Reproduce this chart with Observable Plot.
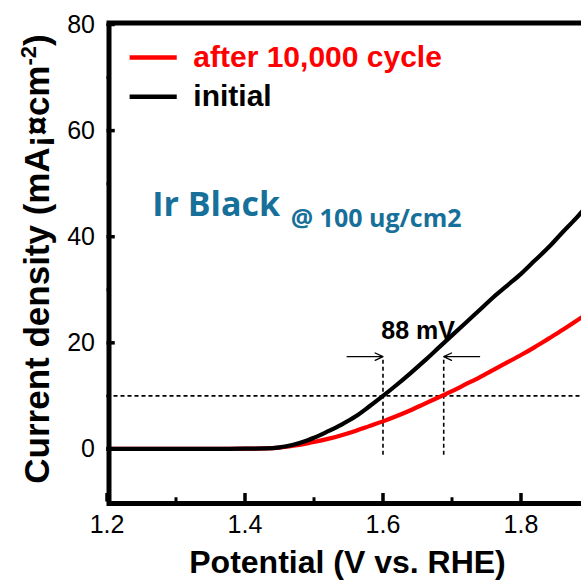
<!DOCTYPE html>
<html><head><meta charset="utf-8">
<script src="https://cdn.jsdelivr.net/npm/d3@7"></script>
<script src="https://cdn.jsdelivr.net/npm/@observablehq/plot@0.6"></script>
<style>body{margin:0;background:#fff}#chart svg{display:block}</style>
</head><body><div id="chart"></div>
<script>
// ---- data ----
const potential = [1.20,1.25,1.30,1.35,1.40,1.43,1.45,1.47,1.49,1.50,1.52,1.54,1.56,1.58,1.60,1.62,1.64,1.66,1.68,1.70,1.72,1.74,1.76,1.78,1.80,1.82,1.84,1.86,1.88,1.90];
const initial   = [0,0,0,0,0.05,0.1,0.3,0.8,1.6,2.1,3.3,4.6,6.1,8.0,10.0,12.1,14.3,16.6,19.0,21.4,23.8,26.2,28.6,30.8,33.0,35.5,38.0,40.8,43.5,46.5];
const after     = [0,0,0,0,0.05,0.1,0.25,0.6,1.05,1.3,1.9,2.6,3.4,4.3,5.2,6.2,7.3,8.5,9.7,10.9,12.2,13.5,14.9,16.3,17.7,19.2,20.8,22.4,24.1,25.9];
const seriesNames  = ["after 10,000 cycle", "initial"];
const seriesColors = ["#ff0000", "#000000"];
const xTicks = [1.2, 1.4, 1.6, 1.8];
const xMinor = [1.3, 1.5, 1.7];
const yTicks = [0, 20, 40, 60, 80];
const yMinor = [10, 30, 50, 70];
const refCurrent = 10;
const onsets = [1.6, 1.688];
const deltaLabel = "88 mV";
const title = "Ir Black";
const subtitle = "@ 100 ug/cm2";
const xLabel = "Potential (V vs. RHE)";
const yLabelMain = "Current density (mA¡¤cm";
const yLabelSup = "-2";

const xDomain = [1.2, 1.8877];
const yDomain = [-10, 80];

const rowsAfter = potential.map((v, i) => ({V: v, j: after[i]}));
const rowsInitial = potential.map((v, i) => ({V: v, j: initial[i]}));
const legendRows = seriesNames.map((s, i) => ({s, color: seriesColors[i], j: [73.8, 66.4][i]}));

const font = "'Liberation Sans', Arial, sans-serif";

const plot = Plot.plot({
  width: 581, height: 582,
  marginLeft: 106.5, marginRight: 0, marginTop: 24, marginBottom: 80.5,
  x: {domain: xDomain},
  y: {domain: yDomain},
  style: {fontFamily: font, background: "#fff", color: "#000", overflow: "visible"},
  marks: [
    Plot.axisX({ticks: xTicks, tickSize: 0, tickPadding: 13, fontSize: 25, label: null, tickFormat: d => d.toFixed(1)}),
    Plot.axisY({ticks: yTicks, tickSize: 0, tickPadding: 12, fontSize: 25, label: null}),
    // reference dashed lines
    Plot.ruleY([refCurrent], {y: d => d, stroke: "#000", strokeWidth: 1.6, strokeDasharray: "4,3"}),
    Plot.ruleX(onsets, {x: d => d, y1: -1.2, y2: 17, stroke: "#000", strokeWidth: 1.6, strokeDasharray: "4,3"}),
    // curves
    Plot.line(rowsAfter, {x: "V", y: "j", stroke: seriesColors[0], strokeWidth: 4.2, curve: "monotone-x", clip: true}),
    Plot.line(rowsInitial, {x: "V", y: "j", stroke: seriesColors[1], strokeWidth: 4.2, curve: "monotone-x", clip: true}),
    // arrows
    Plot.arrow([{x1: onsets[0] - 0.052, x2: onsets[0], y: 17.4}, {x1: onsets[1] + 0.052, x2: onsets[1], y: 17.4}],
      {x1: "x1", x2: "x2", y1: "y", y2: "y", stroke: "#000", strokeWidth: 1.3, headLength: 10, headAngle: 50}),
    Plot.text([deltaLabel], {x: 1.651, y: 22.2, text: d => d, fontSize: 25, fontWeight: "bold", fill: "#000"}),
    // legend
    Plot.ruleY(legendRows, {y: "j", x1: 1.2335, x2: 1.3018, stroke: "color", strokeWidth: 4.5}),
    Plot.text(legendRows, {x: 1.3251, y: "j", text: "s", fill: "color", textAnchor: "start", fontSize: 30, fontWeight: "bold"}),
    // inscription
    Plot.text([title], {x: 1.2655, y: 45.9, text: d => d, textAnchor: "start", fontSize: 34, fontWeight: "bold", fill: "#17709a", fontFamily: "'Open Sans', sans-serif"}),
    Plot.text([subtitle], {x: 1.4662, y: 43.3, text: d => d, textAnchor: "start", fontSize: 25, fontWeight: "bold", fill: "#17709a", fontFamily: "'Open Sans', sans-serif"}),
    // inward ticks
    Plot.ruleX(xTicks, {x: d => d, y1: -10, y2: -8.4, strokeWidth: 3.5}),
    Plot.ruleX(xMinor, {x: d => d, y1: -10, y2: -9.2, strokeWidth: 3}),
    Plot.ruleY(yTicks, {y: d => d, x1: 1.2, x2: 1.212, strokeWidth: 3.5}),
    Plot.ruleY(yMinor, {y: d => d, x1: 1.2, x2: 1.206, strokeWidth: 3}),
    // frame (left, bottom, top)
    Plot.ruleX([xDomain[0]], {x: d => d, strokeWidth: 5, dx: 2}),
    Plot.ruleY([yDomain[0]], {y: d => d, strokeWidth: 5, dy: 1.5}),
    Plot.ruleY([yDomain[1]], {y: d => d, strokeWidth: 5, dy: -1.5})
  ]
});

const svg = d3.select(plot);
const yl = svg.append("text")
  .attr("transform", "translate(49,259) rotate(-90)")
  .attr("text-anchor", "middle")
  .style("font-family", font).style("font-weight", "bold").style("font-size", "35px").attr("fill", "#000");
yl.append("tspan").text(yLabelMain);
yl.append("tspan").attr("dy", -13).style("font-size", "22px").text(yLabelSup);
yl.append("tspan").attr("dy", 13).text(")");

svg.append("text")
  .attr("x", 347.5).attr("y", 573)
  .attr("text-anchor", "middle")
  .style("font-family", font).style("font-weight", "bold").style("font-size", "32px").attr("fill", "#000")
  .text(xLabel);

document.getElementById("chart").append(plot);
</script>
</body></html>
